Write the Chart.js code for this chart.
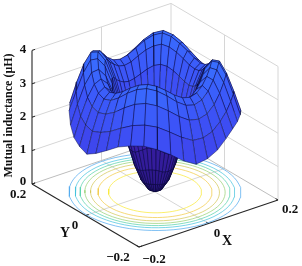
<!DOCTYPE html>
<html>
<head>
<meta charset="utf-8">
<script src="https://cdn.jsdelivr.net/npm/chart.js@4/dist/chart.umd.min.js"></script>
<style>
html, body { margin: 0; padding: 0; background: #fff; }
canvas { display: block; }
</style>
</head>
<body>
<canvas id="chart" width="302" height="266"></canvas>
<script>
// the surface is a disc: rings of radius ringRadii, rays every 9 degrees from 0
var ringRadii = [0, 0.0163, 0.0327, 0.049, 0.0653, 0.0817, 0.098, 0.1143, 0.1307, 0.147, 0.1633, 0.18, 0.196];
var rayAngles = [0, 9, 18, 27, 36, 45, 54, 63, 72, 81, 90, 99, 108, 117, 126, 135, 144, 153, 162, 171,
    180, 189, 198, 207, 216, 225, 234, 243, 252, 261, 270, 279, 288, 297, 306, 315, 324, 333, 342, 351];

// mutual inductance (uH) at the centre and along each ray
var centreValue = 0.03;
var inductance = [
    [0.12, 0.40, 0.85, 1.45, 2.20, 2.85, 3.28, 3.40, 3.25, 2.88, 2.38, 1.80],
    [0.12, 0.40, 0.86, 1.47, 2.23, 2.89, 3.32, 3.46, 3.32, 2.96, 2.46, 1.88],
    [0.12, 0.41, 0.88, 1.54, 2.32, 2.99, 3.44, 3.60, 3.48, 3.14, 2.64, 2.05],
    [0.12, 0.41, 0.92, 1.61, 2.43, 3.11, 3.58, 3.76, 3.70, 3.36, 2.82, 2.25],
    [0.12, 0.42, 0.94, 1.68, 2.52, 3.21, 3.70, 3.92, 3.88, 3.54, 3.00, 2.42],
    [0.12, 0.42, 0.95, 1.70, 2.55, 3.25, 3.76, 4.00, 3.98, 3.62, 3.07, 2.50],
    [0.12, 0.42, 0.94, 1.68, 2.52, 3.21, 3.70, 3.93, 3.90, 3.55, 3.00, 2.43],
    [0.12, 0.41, 0.92, 1.61, 2.43, 3.11, 3.59, 3.78, 3.70, 3.35, 2.84, 2.26],
    [0.12, 0.41, 0.88, 1.54, 2.32, 2.99, 3.44, 3.58, 3.45, 3.10, 2.62, 2.04],
    [0.12, 0.40, 0.86, 1.47, 2.23, 2.89, 3.30, 3.42, 3.26, 2.92, 2.46, 1.87],
    [0.12, 0.40, 0.85, 1.45, 2.20, 2.85, 3.25, 3.36, 3.20, 2.85, 2.40, 1.80],
    [0.12, 0.40, 0.86, 1.47, 2.23, 2.89, 3.30, 3.42, 3.26, 2.92, 2.46, 1.88],
    [0.12, 0.41, 0.88, 1.54, 2.32, 2.99, 3.44, 3.58, 3.45, 3.10, 2.62, 2.05],
    [0.12, 0.41, 0.92, 1.61, 2.43, 3.11, 3.59, 3.80, 3.73, 3.38, 2.84, 2.27],
    [0.12, 0.42, 0.94, 1.70, 2.56, 3.26, 3.78, 4.00, 3.97, 3.62, 3.06, 2.45],
    [0.12, 0.42, 0.95, 1.72, 2.60, 3.32, 3.84, 4.08, 4.06, 3.70, 3.14, 2.50],
    [0.12, 0.42, 0.94, 1.70, 2.56, 3.26, 3.78, 4.00, 3.96, 3.58, 3.02, 2.45],
    [0.12, 0.41, 0.92, 1.61, 2.43, 3.11, 3.59, 3.80, 3.72, 3.36, 2.80, 2.20],
    [0.12, 0.41, 0.88, 1.54, 2.32, 2.99, 3.46, 3.63, 3.50, 3.14, 2.60, 2.00],
    [0.12, 0.40, 0.86, 1.47, 2.23, 2.89, 3.34, 3.50, 3.36, 3.00, 2.50, 1.90],
    [0.12, 0.40, 0.85, 1.45, 2.20, 2.85, 3.30, 3.45, 3.30, 2.95, 2.45, 1.82],
    [0.12, 0.40, 0.86, 1.47, 2.23, 2.89, 3.34, 3.50, 3.36, 3.02, 2.54, 1.98],
    [0.12, 0.41, 0.88, 1.54, 2.32, 2.99, 3.46, 3.63, 3.52, 3.17, 2.68, 2.18],
    [0.12, 0.41, 0.92, 1.61, 2.43, 3.11, 3.59, 3.80, 3.73, 3.38, 2.86, 2.38],
    [0.12, 0.42, 0.94, 1.68, 2.52, 3.21, 3.71, 3.93, 3.89, 3.54, 3.00, 2.48],
    [0.12, 0.42, 0.95, 1.70, 2.55, 3.25, 3.75, 3.98, 3.95, 3.60, 3.05, 2.51],
    [0.12, 0.42, 0.94, 1.68, 2.52, 3.21, 3.71, 3.93, 3.89, 3.54, 3.00, 2.42],
    [0.12, 0.41, 0.92, 1.61, 2.43, 3.11, 3.59, 3.80, 3.73, 3.38, 2.84, 2.25],
    [0.12, 0.41, 0.88, 1.54, 2.32, 2.99, 3.46, 3.63, 3.52, 3.17, 2.64, 2.02],
    [0.12, 0.40, 0.86, 1.47, 2.23, 2.89, 3.34, 3.50, 3.36, 3.00, 2.48, 1.85],
    [0.12, 0.40, 0.85, 1.45, 2.20, 2.85, 3.30, 3.45, 3.30, 2.95, 2.47, 1.92],
    [0.12, 0.40, 0.86, 1.47, 2.23, 2.89, 3.34, 3.50, 3.36, 3.01, 2.55, 2.06],
    [0.12, 0.41, 0.88, 1.54, 2.32, 2.99, 3.46, 3.63, 3.52, 3.17, 2.72, 2.26],
    [0.12, 0.41, 0.92, 1.61, 2.43, 3.11, 3.59, 3.80, 3.73, 3.38, 2.88, 2.40],
    [0.12, 0.42, 0.94, 1.68, 2.52, 3.21, 3.72, 3.95, 3.91, 3.56, 3.02, 2.45],
    [0.12, 0.42, 0.95, 1.70, 2.55, 3.25, 3.78, 4.03, 4.00, 3.64, 3.08, 2.48],
    [0.12, 0.42, 0.94, 1.68, 2.52, 3.21, 3.72, 3.95, 3.91, 3.54, 3.00, 2.42],
    [0.12, 0.41, 0.92, 1.61, 2.43, 3.11, 3.59, 3.78, 3.71, 3.36, 2.82, 2.25],
    [0.12, 0.41, 0.88, 1.54, 2.32, 2.99, 3.44, 3.60, 3.48, 3.14, 2.64, 2.05],
    [0.12, 0.40, 0.86, 1.47, 2.23, 2.89, 3.32, 3.46, 3.32, 2.96, 2.46, 1.88]
];

// contour rings on the floor, outer to inner
var contourRadii = [0.196, 0.182, 0.171, 0.160, 0.147, 0.130, 0.106];
var contourColors = ['#4ba6ee', '#3fc2dc', '#4fd0a8', '#93d070', '#d2c552', '#f2c93e', '#f9e82f'];

var zTicks = [0, 1, 2, 3, 4];
var xyLimit = 0.2;
var zLimit = 4;

// axonometric view: where the centre of the floor lands, and what one unit does
var view = { cx: 155, cy: 192, xx: 347.5, xy: -117.5, yx: -267.5, yy: -157.5, zy: -33.4 };

function project(x, y, z) {
    return {
        x: view.cx + x * view.xx + y * view.yx,
        y: view.cy + x * view.xy + y * view.yy + z * view.zy
    };
}

function segment(a, b, color, width) {
    return {
        data: [project(a[0], a[1], a[2]), project(b[0], b[1], b[2])],
        borderColor: color,
        borderWidth: width,
        fill: false
    };
}

function mix(a, b, t) {
    return a.map(function (v, i) { return v + (b[i] - v) * t; });
}

var zStops = [[0, [46, 24, 150]], [1.5, [64, 60, 230]], [3, [60, 84, 248]], [4.1, [56, 112, 255]]];

function cellColor(z, flipped) {
    if (flipped) {
        return 'rgb(' + mix([40, 20, 125], [62, 36, 185], Math.min(z / 2.5, 1)).map(Math.round).join(',') + ')';
    }
    var c = zStops[zStops.length - 1][1];
    for (var i = 0; i < zStops.length - 1; i++) {
        if (z <= zStops[i + 1][0]) {
            c = mix(zStops[i][1], zStops[i + 1][1], (z - zStops[i][0]) / (zStops[i + 1][0] - zStops[i][0]));
            break;
        }
    }
    return 'rgb(' + c.map(Math.round).join(',') + ')';
}

function vertex(ray, ring) {
    var r = ringRadii[ring];
    var t = rayAngles[ray % rayAngles.length] * Math.PI / 180;
    var z = ring === 0 ? centreValue : inductance[ray % rayAngles.length][ring - 1];
    return { X: r * Math.cos(t), Y: r * Math.sin(t), Z: z };
}

function shoelace(pts) {
    var s = 0;
    for (var k = 0; k < pts.length - 1; k++) {
        s += pts[k].x * pts[k + 1].y - pts[k + 1].x * pts[k].y;
    }
    return s;
}

// surface cells, nearest to the viewer first because Chart.js paints the first dataset on top
var cells = [];
for (var a = 0; a < rayAngles.length; a++) {
    for (var b = 0; b < ringRadii.length - 1; b++) {
        var v = [vertex(a, b), vertex(a + 1, b), vertex(a + 1, b + 1), vertex(a, b + 1)];
        v.push(v[0]);
        var pts = v.map(function (p) { return project(p.X, p.Y, p.Z); });
        var flat = v.map(function (p) { return project(p.X, p.Y, 0); });
        var cx = (v[0].X + v[1].X + v[2].X + v[3].X) / 4;
        var cy = (v[0].Y + v[1].Y + v[2].Y + v[3].Y) / 4;
        var cz = (v[0].Z + v[1].Z + v[2].Z + v[3].Z) / 4;
        cells.push({
            depth: cx * 47 + cy * 63,
            pts: pts,
            color: cellColor(cz, shoelace(pts) * shoelace(flat) < 0)
        });
    }
}
cells.sort(function (p, q) { return p.depth - q.depth; });

var datasets = cells.map(function (c) {
    return {
        data: c.pts,
        fill: 'shape',
        backgroundColor: c.color,
        borderColor: 'rgba(10,10,50,0.8)',
        borderWidth: 0.55
    };
});

// floor contours
contourRadii.forEach(function (r, n) {
    var ring = [];
    for (var d = 0; d <= 72; d++) {
        var t = d / 72 * 2 * Math.PI;
        ring.push(project(r * Math.cos(t), r * Math.sin(t), 0));
    }
    datasets.push({ data: ring, borderColor: contourColors[n], borderWidth: 0.7, fill: false });
});

// box axes
var L = xyLimit, black = '#262626', grid = '#d6d6d6';
datasets.push(segment([-L, L, 0], [-L, -L, 0], black, 1.1));
datasets.push(segment([-L, -L, 0], [L, -L, 0], black, 1.1));
datasets.push(segment([-L, L, 0], [-L, L, zLimit], black, 1.1));
zTicks.forEach(function (z) {
    datasets.push(segment([-L, L, z], [-L + 0.009, L, z], black, 1));
    if (z > 0) {
        datasets.push(segment([-L, L, z], [L, L, z], grid, 1));
        datasets.push(segment([L, L, z], [L, -L, z], grid, 1));
    }
});
[-L, 0, L].forEach(function (u) {
    datasets.push(segment([u, -L, 0], [u, -L + 0.009, 0], black, 1));
    datasets.push(segment([-L, u, 0], [-L + 0.009, u, 0], black, 1));
});
datasets.push(segment([-L, L, 0], [L, L, 0], '#bdbdbd', 1));
datasets.push(segment([L, L, 0], [L, -L, 0], '#bdbdbd', 1));
datasets.push(segment([0, L, 0], [0, -L, 0], grid, 1));
datasets.push(segment([L, 0, 0], [-L, 0, 0], grid, 1));
datasets.push(segment([L, L, 0], [L, L, zLimit], grid, 1));
datasets.push(segment([L, -L, 0], [L, -L, zLimit], grid, 1));
datasets.push(segment([0, L, 0], [0, L, zLimit], grid, 1));
datasets.push(segment([L, 0, 0], [L, 0, zLimit], grid, 1));

// tick and axis text placed around the box
var labels = [
    { t: '4', x: 23, y: 50 }, { t: '3', x: 23, y: 84 }, { t: '2', x: 23, y: 117 },
    { t: '1', x: 23, y: 150 }, { t: '0', x: 23, y: 182 },
    { t: '0.2', x: 18, y: 195 }, { t: '0', x: 75, y: 226 }, { t: '\u22120.2', x: 118, y: 258 },
    { t: '\u22120.2', x: 154, y: 260 }, { t: '0', x: 217, y: 234 }, { t: '0.2', x: 290, y: 210 }
];
var axisNames = [{ t: 'Y', x: 65, y: 233 }, { t: 'X', x: 227, y: 241 }];

var textPlugin = {
    id: 'boxText',
    afterDraw: function (chart) {
        var ctx = chart.ctx;
        var place = function (l) {
            ctx.fillText(l.t, chart.scales.x.getPixelForValue(l.x), chart.scales.y.getPixelForValue(l.y));
        };
        ctx.save();
        ctx.fillStyle = '#111';
        ctx.textAlign = 'center';
        ctx.textBaseline = 'middle';
        ctx.font = 'bold 13px "Liberation Serif"';
        labels.forEach(place);
        ctx.font = 'bold 14px "Liberation Serif"';
        axisNames.forEach(place);
        ctx.translate(9, 115.5);
        ctx.rotate(-Math.PI / 2);
        ctx.font = 'bold 12px "Liberation Serif"';
        ctx.fillText('Mutual inductance (\u03bcH)', 0, 0);
        ctx.restore();
    }
};

new Chart(document.getElementById('chart').getContext('2d'), {
    type: 'scatter',
    data: { datasets: datasets },
    plugins: [textPlugin],
    options: {
        responsive: false,
        animation: false,
        showLine: true,
        layout: { padding: 0 },
        elements: { point: { radius: 0 }, line: { tension: 0, borderJoinStyle: 'round' } },
        plugins: { legend: { display: false }, tooltip: { enabled: false }, title: { display: false } },
        scales: {
            x: { type: 'linear', min: 0, max: 302, display: false },
            y: { type: 'linear', min: 0, max: 266, reverse: true, display: false }
        }
    }
});
</script>
</body>
</html>
